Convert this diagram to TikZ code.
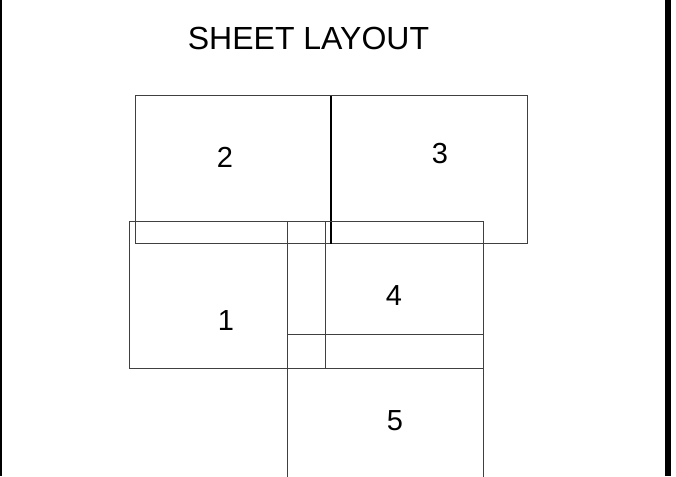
\documentclass[tikz,border=0pt]{standalone}
\usepackage{fontspec}
\setmainfont{Liberation Sans}
\begin{document}
\begin{tikzpicture}[x=1pt,y=-1pt,
  sheet/.style={draw=black!75, line width=1pt},
  lbl/.style={font=\fontsize{29}{34}\selectfont, inner sep=0pt}]
\useasboundingbox (0,0) rectangle (676,476);
\fill[white] (0,0) rectangle (676,476);
% borders
\draw[line width=1.5pt] (0.75,0) -- (0.75,476);
\fill[black] (665,0) rectangle (671,476);
% sheets
\draw[sheet] (135,96) rectangle (331,243.5);
\draw[sheet] (331,96) rectangle (527,243.5);
\draw[black, line width=1.5pt] (331,96) -- (331,243.5);
\draw[sheet] (129,221) rectangle (325,368);
\draw[sheet] (287,221) rectangle (483,368);
\draw[sheet] (287,334) rectangle (483,480);
% labels
\node[font=\fontsize{32}{37}\selectfont, inner sep=0pt] (title) at (308.5,38) {SHEET LAYOUT};
\node[lbl] (n2) at (225,157) {2};
\node[lbl] (n3) at (440,154) {3};
\node[lbl] (n1) at (226,321) {1};
\node[lbl] (n4) at (394,296) {4};
\node[lbl] (n5) at (395,421) {5};
\end{tikzpicture}
\end{document}
